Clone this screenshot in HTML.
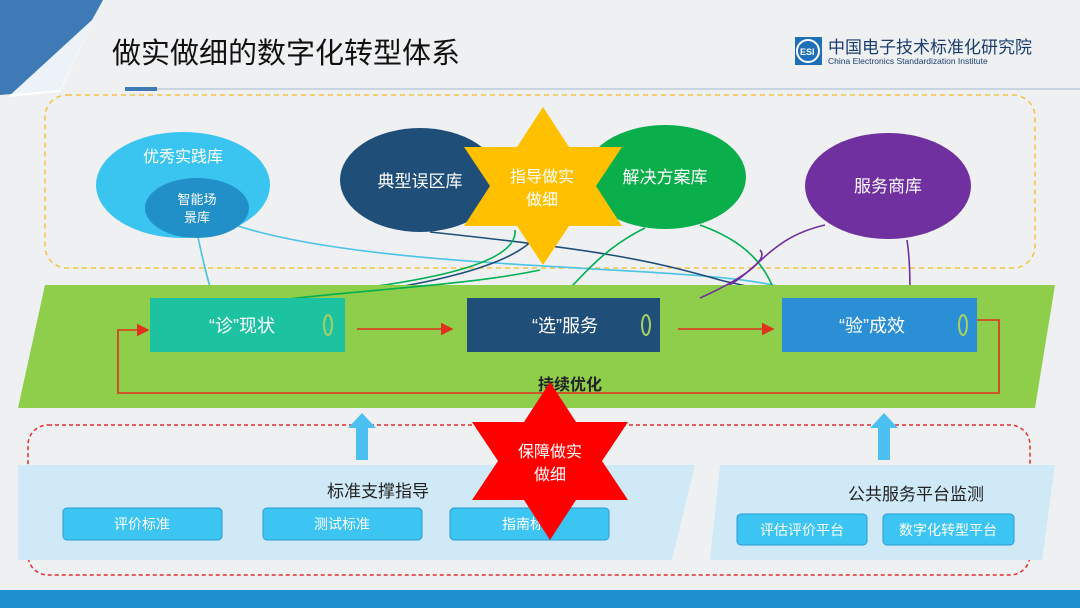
<!DOCTYPE html>
<html><head><meta charset="utf-8"><style>
html,body{margin:0;padding:0;background:#eef0f2;}
svg{display:block;font-family:"Liberation Sans","Noto Sans CJK SC",sans-serif;}
</style></head><body>
<svg width="1080" height="608" viewBox="0 0 1080 608" xmlns="http://www.w3.org/2000/svg">
<defs>
<marker id="ar" markerWidth="8" markerHeight="8" refX="7" refY="4" orient="auto"><path d="M0,0 L8,4 L0,8 z" fill="#e0301e"/></marker>
</defs>
<rect width="1080" height="608" fill="#eef0f2"/>
<polygon points="0,0 103,0 60,90 0,95" fill="#3e7ab5"/>
<polygon points="103,0 60,92 8,97 92,20" fill="#ffffff" opacity="0.9"/>
<text x="112" y="63" font-size="29" fill="#111">做实做细的数字化转型体系</text>
<rect x="795" y="37" width="27" height="28" fill="#1e6fb8"/>
<circle cx="808" cy="51" r="11" fill="none" stroke="#fff" stroke-width="2"/>
<text x="800" y="55" font-size="9" fill="#fff" font-weight="bold">ESI</text>
<text x="828" y="53" font-size="17" fill="#1a3d6e">中国电子技术标准化研究院</text>
<text x="828" y="64" font-size="8.5" fill="#1a3d6e">China Electronics Standardization Institute</text>
<line x1="125" y1="89" x2="1080" y2="89" stroke="#c8d4e0" stroke-width="2"/>
<rect x="125" y="87" width="32" height="4" fill="#3e7ab5"/>

<rect x="45" y="95" width="990" height="173" rx="22" fill="none" stroke="#f5c242" stroke-width="1.5" stroke-dasharray="5,4"/>

<g fill="none" stroke-width="1.6">
<path d="M198,237 C205,270 210,290 215,300" stroke="#4cc3e8"/>
<path d="M235,225 C400,280 800,260 800,300" stroke="#4cc3e8"/>
<path d="M430,232 C600,250 650,260 720,280 C760,290 800,295 780,298" stroke="#1f4e79"/>
<path d="M540,230 C520,270 400,290 300,300" stroke="#1f4e79"/>
<path d="M515,230 C520,280 320,290 280,300" stroke="#00b050"/>
<path d="M645,228 C600,250 580,280 560,298" stroke="#00b050"/>
<path d="M700,225 C770,250 770,290 780,300" stroke="#00b050"/>
<path d="M825,225 C760,240 760,280 700,298" stroke="#7030a0"/>
<path d="M907,240 C910,260 910,280 910,300" stroke="#7030a0"/>
</g>

<ellipse cx="183" cy="185" rx="87" ry="53" fill="#3ac4f0"/>
<text x="183" y="162" font-size="16" fill="#fff" text-anchor="middle">优秀实践库</text>
<ellipse cx="197" cy="208" rx="52" ry="30" fill="#2190c8"/>
<text x="197" y="204" font-size="13" fill="#fff" text-anchor="middle">智能场</text>
<text x="197" y="222" font-size="13" fill="#fff" text-anchor="middle">景库</text>

<ellipse cx="420" cy="180" rx="80" ry="52" fill="#1f4e79"/>
<ellipse cx="665" cy="177" rx="81" ry="52" fill="#0aae4a"/>
<ellipse cx="888" cy="186" rx="83" ry="53" fill="#7030a0"/>
<text x="888" y="192" font-size="17" fill="#fff" text-anchor="middle">服务商库</text>

<polygon points="543,107 569,147 622,147 596,186 622,226 569,226 543,265 517,226 464,226 490,186 464,147 517,147" fill="#ffc000"/>
<text x="420" y="187" font-size="17" fill="#fff" text-anchor="middle">典型误区库</text>
<text x="665" y="183" font-size="17" fill="#fff" text-anchor="middle">解决方案库</text>
<text x="542" y="182" font-size="16" fill="#fff" text-anchor="middle">指导做实</text>
<text x="542" y="205" font-size="16" fill="#fff" text-anchor="middle">做细</text>

<polygon points="45,285 1055,285 1035,408 18,408" fill="#8fce4a"/>
<g fill="none" stroke-width="1.6">
<path d="M280,300 C360,290 470,285 540,270" stroke="#00b050"/>
<path d="M700,298 C740,280 770,260 760,250" stroke="#7030a0"/>
</g>

<rect x="150" y="298" width="195" height="54" fill="#1dc2a0"/>
<text x="242" y="332" font-size="18" fill="#fff" text-anchor="middle">“诊”现状</text>
<ellipse cx="328" cy="325" rx="4" ry="10" fill="none" stroke="#a8d060" stroke-width="2"/>
<rect x="467" y="298" width="193" height="54" fill="#1f4e79"/>
<text x="565" y="332" font-size="18" fill="#fff" text-anchor="middle">“选”服务</text>
<ellipse cx="646" cy="325" rx="4" ry="10" fill="none" stroke="#a8d060" stroke-width="2"/>
<rect x="782" y="298" width="195" height="54" fill="#2b8fd6"/>
<text x="872" y="332" font-size="18" fill="#fff" text-anchor="middle">“验”成效</text>
<ellipse cx="963" cy="325" rx="4" ry="10" fill="none" stroke="#a8d060" stroke-width="2"/>

<g stroke="#e0301e" stroke-width="1.6" fill="none">
<line x1="357" y1="329" x2="452" y2="329" marker-end="url(#ar)"/>
<line x1="678" y1="329" x2="773" y2="329" marker-end="url(#ar)"/>
<polyline points="977,320 999,320 999,393 118,393 118,330 148,330" marker-end="url(#ar)"/>
</g>
<text x="570" y="390" font-size="16" font-weight="bold" fill="#222" text-anchor="middle">持续优化</text>

<rect x="28" y="425" width="1002" height="150" rx="20" fill="none" stroke="#e0302e" stroke-width="1.5" stroke-dasharray="4,3"/>
<polygon points="18,465 695,465 672,560 18,560" fill="#cfe9f7"/>
<polygon points="720,465 1055,465 1042,560 710,560" fill="#cfe9f7"/>
<polygon points="348,428 362,413 376,428" fill="#4cc0f0"/>
<polygon points="870,428 884,413 898,428" fill="#4cc0f0"/>
<rect x="878" y="426" width="12" height="34" fill="#4cc0f0"/>
<rect x="356" y="426" width="12" height="34" fill="#4cc0f0"/>
<text x="378" y="497" font-size="17" fill="#222" text-anchor="middle">标准支撑指导</text>
<text x="916" y="500" font-size="17" fill="#222" text-anchor="middle">公共服务平台监测</text>
<g fill="#3cc4f2" stroke="#2a9ad0">
<rect x="63" y="508" width="159" height="32" rx="4"/>
<rect x="263" y="508" width="159" height="32" rx="4"/>
<rect x="450" y="508" width="159" height="32" rx="4"/>
<rect x="737" y="514" width="130" height="31" rx="4"/>
<rect x="883" y="514" width="131" height="31" rx="4"/>
</g>
<g fill="#fff" font-size="14" text-anchor="middle">
<text x="142" y="529">评价标准</text>
<text x="342" y="529">测试标准</text>
<text x="530" y="529">指南标准</text>
<text x="802" y="535">评估评价平台</text>
<text x="948" y="535">数字化转型平台</text>
</g>
<polygon points="550,382 576,422 628,422 602,461 628,500 576,500 550,540 524,500 472,500 498,461 472,422 524,422" fill="#ff0000"/>
<text x="550" y="457" font-size="16" fill="#fff" text-anchor="middle">保障做实</text>
<text x="550" y="480" font-size="16" fill="#fff" text-anchor="middle">做细</text>
<rect x="0" y="590" width="1080" height="18" fill="#1f8fd0"/>
</svg>
</body></html>
